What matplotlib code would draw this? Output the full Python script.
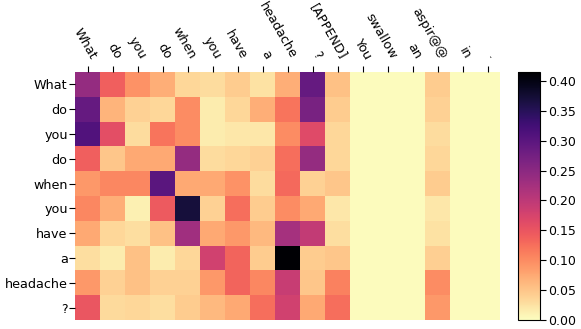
import numpy as np
import matplotlib
matplotlib.use("Agg")
import matplotlib.pyplot as plt

# ============================================================
# DATA
# ============================================================
row_labels = ["What", "do", "you", "do", "when", "you", "have", "a", "headache", "?"]
col_labels = ["What", "do", "you", "do", "when", "you", "have", "a", "headache", "?",
              "[APPEND]", "You", "swallow", "an", "aspir@@", "in", "."]

# attention weights, one list per source row (17 target columns)
att_what     = [0.240, 0.140, 0.095, 0.070, 0.035, 0.030, 0.045, 0.025, 0.070, 0.290, 0.055, 0.002, 0.002, 0.002, 0.045, 0.002, 0.002]
att_do       = [0.290, 0.065, 0.040, 0.035, 0.100, 0.015, 0.035, 0.070, 0.120, 0.270, 0.045, 0.002, 0.002, 0.002, 0.040, 0.002, 0.002]
att_you      = [0.310, 0.160, 0.030, 0.120, 0.100, 0.015, 0.020, 0.020, 0.100, 0.165, 0.035, 0.002, 0.002, 0.002, 0.030, 0.002, 0.002]
att_do2      = [0.140, 0.050, 0.075, 0.075, 0.240, 0.030, 0.035, 0.040, 0.125, 0.240, 0.035, 0.002, 0.002, 0.002, 0.035, 0.002, 0.002]
att_when     = [0.090, 0.105, 0.105, 0.300, 0.075, 0.075, 0.095, 0.030, 0.130, 0.040, 0.050, 0.002, 0.002, 0.002, 0.045, 0.002, 0.002]
att_you2     = [0.105, 0.070, 0.012, 0.145, 0.370, 0.040, 0.125, 0.045, 0.100, 0.075, 0.020, 0.002, 0.002, 0.002, 0.020, 0.002, 0.002]
att_have     = [0.075, 0.035, 0.028, 0.055, 0.230, 0.075, 0.090, 0.060, 0.225, 0.195, 0.028, 0.002, 0.002, 0.002, 0.025, 0.002, 0.002]
att_a        = [0.028, 0.015, 0.055, 0.015, 0.035, 0.180, 0.135, 0.045, 0.415, 0.045, 0.050, 0.002, 0.002, 0.002, 0.042, 0.002, 0.002]
att_headache = [0.090, 0.040, 0.055, 0.040, 0.040, 0.090, 0.135, 0.105, 0.190, 0.050, 0.110, 0.002, 0.002, 0.002, 0.100, 0.002, 0.002]
att_q        = [0.150, 0.032, 0.035, 0.028, 0.045, 0.060, 0.075, 0.125, 0.180, 0.075, 0.125, 0.002, 0.002, 0.002, 0.090, 0.002, 0.002]

att = np.array([att_what, att_do, att_you, att_do2, att_when,
                att_you2, att_have, att_a, att_headache, att_q])

cbar_ticks = [0.00, 0.05, 0.10, 0.15, 0.20, 0.25, 0.30, 0.35, 0.40]

# ============================================================
# PLOT
# ============================================================
W, H = 581, 329
fig = plt.figure(figsize=(W / 100, H / 100), dpi=100)
ax = fig.add_axes([75 / W, 1 - 320 / H, 425 / W, 248 / H])
cax = fig.add_axes([518 / W, 1 - 320 / H, 22 / W, 248 / H])

fs = 9.2
im = ax.pcolormesh(att, cmap="magma_r", vmin=0, vmax=att.max())
ax.set_xlim(0, att.shape[1])
ax.set_ylim(att.shape[0], 0)

ax.xaxis.tick_top()
ax.set_xticks(np.arange(len(col_labels)) + 0.5)
ax.set_xticklabels(col_labels, rotation=-60, ha="right", va="bottom",
                   rotation_mode="anchor", fontsize=fs)
ax.set_yticks(np.arange(len(row_labels)) + 0.5)
ax.set_yticklabels(row_labels, fontsize=fs)
ax.tick_params(axis="y", length=4.3, pad=1)
ax.tick_params(axis="x", length=4.0, pad=3.6)
for s in ax.spines.values():
    s.set_visible(False)

cb = fig.colorbar(im, cax=cax)
cb.set_ticks(cbar_ticks)
cb.ax.set_yticklabels([f"{t:.2f}" for t in cbar_ticks])
cb.ax.tick_params(labelsize=9, length=4, pad=2)

fig.savefig("out.png", dpi=100)
